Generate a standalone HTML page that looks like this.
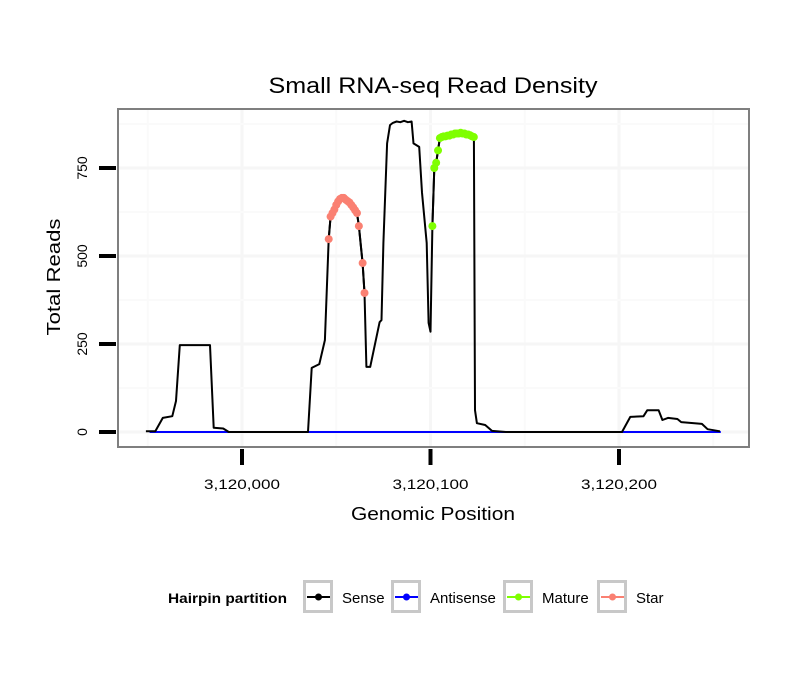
<!DOCTYPE html>
<html><head><meta charset="utf-8"><style>
body{margin:0;background:#fff;width:810px;height:690px;overflow:hidden}
svg{display:block;font-family:"Liberation Sans",sans-serif}
</style></head><body>
<svg id="chart" width="810" height="690">
<rect width="810" height="690" fill="#fff"/>
<text x="433" y="93" font-size="22" text-anchor="middle" textLength="329" lengthAdjust="spacingAndGlyphs">Small RNA-seq Read Density</text>
<g id="grid"></g>
<g id="series"></g>
<rect x="118" y="109" width="631" height="338" fill="none" stroke="#7f7f7f" stroke-width="2"/>
<g id="axes"></g>
<text x="433" y="520" font-size="18" text-anchor="middle" textLength="164" lengthAdjust="spacingAndGlyphs">Genomic Position</text>
<text transform="translate(60,277) rotate(-90)" font-size="18" text-anchor="middle" textLength="117" lengthAdjust="spacingAndGlyphs">Total Reads</text>
<g>
<text x="168" y="603" font-size="14" font-weight="bold" textLength="119" lengthAdjust="spacingAndGlyphs">Hairpin partition</text>
<g id="legend"></g>
</g>
</svg>
<script>
const BASE = 3120000;
const senseX = [-51,-46,-42,-37,-35,-33,-17,-15,-10,-7,35,37,41,44,46,47,48,49,50,51,52,53,54,55,56,57,58,59,60,61,62,63,64,65,66,68,73,74,75,77,78.5,80,82,84,86,88,90,91,94,95.5,98,99,100,101,102,103,104,105,106,107,108,109,110,111,112,113,114,115,116,117,118,119,120,121,122,123,123.6,124.6,129,132.6,140,201.6,206,213,215,221,223,226,231,233,244,247,253.6];
const senseY = [2,2,40,45,88,247,247,12,10,0,0,182,193,261,548,612,622,632,645,655,662,665,665,660,656,652,645,638,630,622,585,530,480,395,185,185,312,318,537,820,872,878,882,880,884,880,882,820,810,680,537,310,285,585,750,765,800,835,838,840,840,842,842,845,845,848,848,848,850,848,848,845,845,843,840,838,62,25,20,3,0,0,43,45,62,62,34,40,37,28,23,8,2];
const antiX = [-49,254];
const antiY = [0,0];
const starX = [46,47,48,49,50,51,52,53,54,55,56,57,58,59,60,61,62,64,65];
const starY = [548,612,622,632,645,655,662,665,665,660,656,652,645,638,630,622,585,480,395];
const matureX = [101,102,103,104,105,106,107,108,109,110,111,112,113,114,115,116,117,118,119,120,121,122,123];
const matureY = [585,750,765,800,835,838,840,840,842,842,845,845,848,848,848,850,848,848,845,845,843,840,838];
const xTicks = [3120000,3120100,3120200];
const xTickLabels = ["3,120,000","3,120,100","3,120,200"];
const yTicks = [0,250,500,750];
const yTickLabels = ["0","250","500","750"];
const legendLabels = ["Sense","Antisense","Mature","Star"];
const legendColors = ["#000000","#0000ff","#7fff00","#fa8072"];

const NS="http://www.w3.org/2000/svg";
function X(p){return 242+(p-BASE)*1.885;}
function Y(v){return 432-v*0.352;}
function mk(tag,attrs,parent){const e=document.createElementNS(NS,tag);for(const k in attrs)e.setAttribute(k,attrs[k]);parent.appendChild(e);return e;}
const grid=document.getElementById('grid'),series=document.getElementById('series'),axes=document.getElementById('axes'),legend=document.getElementById('legend');
mk('rect',{x:118,y:109,width:631,height:338,fill:'#fff'},grid);
for(let i=-1;i<xTicks.length;i++){
  const mx=X(xTicks[Math.max(i,0)]+(i<0?-50:50));
  const l=mk('line',{x1:mx,x2:mx,y1:109,y2:447,stroke:'#fafafa','stroke-width':2},grid);
  
  
}
xTicks.forEach(t=>{const l=mk('line',{x1:X(t),x2:X(t),y1:109,y2:447,stroke:'#f6f6f6','stroke-width':3},grid);
  
  });
yTicks.forEach(t=>{const l=mk('line',{x1:118,x2:749,y1:Y(t),y2:Y(t),stroke:'#f6f6f6','stroke-width':3},grid);
  
  
  const m=mk('line',{x1:118,x2:749,y1:Y(t+125),y2:Y(t+125),stroke:'#fafafa','stroke-width':2},grid);
  
  });
function line(xs,ys,color,name){
  const d=xs.map((x,i)=>(i?'L':'M')+X(BASE+x).toFixed(1)+','+Y(ys[i]).toFixed(1)).join('');
  const p=mk('path',{d:d,fill:'none',stroke:color,'stroke-width':2,'stroke-linejoin':'round'},series);
  
  
}
function pts(xs,ys,color,name){
  xs.forEach((x,i)=>{const c=mk('circle',{cx:X(BASE+x),cy:Y(ys[i]),r:4,fill:color},series);
    
    });
}
line(antiX,antiY,'#0000ff','antisense-line');
line(senseX,senseY,'#000','sense-line');
line(starX,starY,'#000','star-line');
pts(starX,starY,'#fa8072','star-point');
line(matureX,matureY,'#000','mature-line');
pts(matureX,matureY,'#7fff00','mature-point');
xTicks.forEach((t,i)=>{
  const l=mk('line',{x1:X(t),x2:X(t),y1:449,y2:465,stroke:'#000','stroke-width':4},axes);
  
  
  const tx=mk('text',{x:X(t),y:489,'font-size':14,'text-anchor':'middle',textLength:76,lengthAdjust:'spacingAndGlyphs'},axes);
  tx.textContent=xTickLabels[i];
  
  
});
yTicks.forEach((t,i)=>{
  const l=mk('line',{x1:99,x2:116,y1:Y(t),y2:Y(t),stroke:'#000','stroke-width':4},axes);
  
  
  const tx=mk('text',{transform:`translate(87,${Y(t)}) rotate(-90)`,'font-size':14,'text-anchor':'middle'},axes);
  tx.textContent=yTickLabels[i];
  
  
});
const lx=[303,391,503,597];
legendLabels.forEach((lab,i)=>{
  const g=mk('g',{},legend);
  
  
  mk('rect',{x:lx[i]+1.5,y:581.5,width:27,height:30,fill:'#fff',stroke:'#c8c8c8','stroke-width':3},g);
  mk('line',{x1:lx[i]+4,x2:lx[i]+27,y1:597,y2:597,stroke:legendColors[i],'stroke-width':2},g);
  mk('circle',{cx:lx[i]+15.5,cy:597,r:3.5,fill:legendColors[i]},g);
  const t=mk('text',{x:lx[i]+39,y:603,'font-size':15},g);
  t.textContent=lab;
});
</script>
</body></html>
